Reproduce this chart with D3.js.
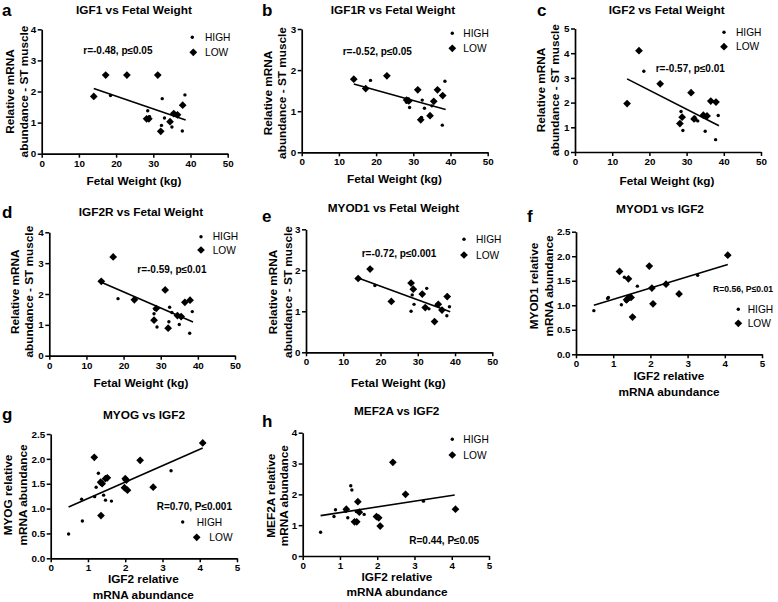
<!DOCTYPE html>
<html>
<head>
<meta charset="utf-8">
<script src="https://cdn.jsdelivr.net/npm/d3@7"></script>
<style>
body{margin:0;background:#fff;}
svg text{font-family:"Liberation Sans",Arial,sans-serif;fill:#000;}
</style>
</head>
<body>
<div id="canvas"></div>
<script>
// fetal weight (kg), same animals in panels a-e
var lowWeight  = [14.0, 17.2, 22.9, 28.2, 28.8, 31.2, 32.0, 34.5, 35.5, 36.5, 37.9];
var highWeight = [18.5, 28.2, 28.5, 29.0, 32.2, 32.4, 33.0, 35.0, 37.8, 38.5];

// relative mRNA abundance, ST muscle
var igf1Low   = [1.84, 2.53, 2.53, 1.12, 1.12, 2.53, 0.72, 1.03, 1.29, 1.25, 1.56];
var igf1High  = [1.87, 1.13, 1.38, 1.19, 0.91, 1.77, 1.15, 0.86, 0.73, 1.89];
var igf1rLow  = [1.78, 1.55, 1.86, 1.27, 1.25, 1.52, 0.79, 0.89, 1.24, 1.52, 1.38];
var igf1rHigh = [1.75, 1.22, 1.30, 1.09, 0.85, 1.27, 1.07, 1.13, 0.66, 1.73];
var igf2Low   = [1.96, 4.10, 2.76, 1.15, 1.41, 2.40, 1.34, 1.49, 1.46, 2.06, 2.02];
var igf2High  = [3.27, 1.20, 1.64, 0.87, 1.41, 1.30, 1.26, 0.84, 0.50, 1.48];
var igf2rLow  = [2.41, 3.20, 1.81, 1.15, 1.53, 2.13, 0.89, 1.30, 1.27, 1.73, 1.80];
var igf2rHigh = [1.85, 1.36, 1.50, 0.93, 1.10, 1.57, 1.40, 1.01, 0.73, 1.43];
var myod1Low  = [1.80, 2.03, 1.24, 1.69, 1.54, 1.42, 1.09, 0.75, 1.17, 1.03, 1.36];
var myod1High = [1.63, 1.00, 1.40, 1.17, 1.10, 1.56, 1.06, 1.15, 0.89, 1.11];

// fitted lines (value at start and end of the weight range)
var weightFitRange = [14, 38.7];
var igf1Fit  = [2.10, 1.08];
var igf1rFit = [1.66, 1.04];
var igf2Fit  = [2.96, 1.06];
var igf2rFit = [2.38, 1.09];
var myod1Fit = [1.81, 0.99];

// panels f-h: IGF2 relative abundance on x
var fLowX  = [1.17, 1.41, 1.97, 2.04, 2.07, 2.42, 2.77, 1.52, 1.36, 1.41, 1.48, 4.08];
var fLowY  = [1.69, 1.54, 1.80, 1.35, 1.03, 1.43, 1.23, 0.76, 1.11, 1.15, 1.16, 2.02];
var fHighX = [0.48, 0.85, 0.87, 1.22, 1.30, 1.65, 3.27, 1.35];
var fHighY = [0.89, 1.14, 1.16, 1.01, 1.57, 1.39, 1.61, 1.08];

var gLowX  = [1.17, 1.34, 1.38, 1.47, 1.52, 1.35, 2.00, 2.03, 1.98, 2.06, 2.40, 2.75, 4.08];
var gLowY  = [2.03, 1.53, 1.50, 1.60, 1.62, 0.86, 1.60, 1.57, 1.42, 1.37, 1.97, 1.43, 2.32];
var gHighX = [0.48, 0.85, 0.83, 1.22, 1.18, 1.28, 1.42, 1.47, 1.63, 3.23];
var gHighY = [0.49, 0.75, 1.19, 1.43, 1.24, 1.71, 1.27, 1.17, 1.15, 1.76];

var hLowX  = [2.42, 2.76, 4.10, 1.48, 1.17, 1.52, 1.39, 1.45, 1.98, 2.04, 2.08];
var hLowY  = [3.04, 2.00, 1.52, 1.76, 1.52, 1.42, 1.11, 1.11, 1.28, 1.24, 0.97];
var hHighX = [0.48, 0.84, 0.88, 1.21, 1.29, 1.32, 1.44, 1.65, 3.24, 1.14];
var hHighY = [0.77, 1.28, 1.50, 1.24, 2.28, 2.14, 1.44, 1.35, 1.78, 1.46];

var igf2FitRange = [0.48, 4.08];
var fFit = [1.00, 1.83];
var gFit = [1.03, 2.22];
var hFit = [1.31, 1.98];

var weightTicks = [0, 10, 20, 30, 40, 50];
var igf2Ticks = [0, 1, 2, 3, 4, 5];
var halfTicks = [0, 0.5, 1, 1.5, 2, 2.5];

var fetalLabel = ['Fetal Weight (kg)'];
var igf2Label = ['IGF2 relative', 'mRNA abundance'];
var stLabel = ['Relative mRNA', 'abundance - ST muscle'];

var panels = [
  {letter:'a', lp:[2,15.5], title:'IGF1 vs Fetal Weight', tp:[134,14],
   box:[41.7,227.7,29.3,153.7], xd:50, xt:weightTicks, yd:4, yt:[0,1,2,3,4], yf:d3.format('d'),
   lowX:lowWeight, lowY:igf1Low, highX:highWeight, highY:igf1High, fitX:weightFitRange, fitY:igf1Fit,
   ylab:stLabel, ylp:[13.5,28,91.5], xlab:fetalLabel, xlp:[134,185],
   note:'r=-0.48, p≤0.05', np:[83.3,54], leg:[192.3,37.3,205,193.3,52.3,205]},
  {letter:'b', lp:[262,16], title:'IGF1R vs Fetal Weight', tp:[393,14],
   box:[301.7,487.7,29,152.3], xd:50, xt:weightTicks, yd:3, yt:[0,1,2,3], yf:d3.format('d'),
   lowX:lowWeight, lowY:igf1rLow, highX:highWeight, highY:igf1rHigh, fitX:weightFitRange, fitY:igf1rFit,
   ylab:stLabel, ylp:[272,286,93], xlab:fetalLabel, xlp:[394.5,182.7],
   note:'r=-0.52, p≤0.05', np:[342.7,55.3], leg:[452.3,33.3,463.3,452.3,48.3,463.3]},
  {letter:'c', lp:[537,16], title:'IGF2 vs Fetal Weight', tp:[666.7,14],
   box:[575,761,28.5,152], xd:50, xt:weightTicks, yd:5, yt:[0,1,2,3,4,5], yf:d3.format('d'),
   lowX:lowWeight, lowY:igf2Low, highX:highWeight, highY:igf2High, fitX:weightFitRange, fitY:igf2Fit,
   ylab:stLabel, ylp:[545,559,90], xlab:fetalLabel, xlp:[667,185],
   note:'r=-0.57, p≤0.01', np:[655.7,71.7], leg:[724,32.3,736,724,46.7,736]},
  {letter:'d', lp:[2,218], title:'IGF2R vs Fetal Weight', tp:[141,215.7],
   box:[49.3,235,232.3,355.7], xd:50, xt:weightTicks, yd:4, yt:[0,1,2,3,4], yf:d3.format('d'),
   lowX:lowWeight, lowY:igf2rLow, highX:highWeight, highY:igf2rHigh, fitX:weightFitRange, fitY:igf2rFit,
   ylab:stLabel, ylp:[19,33,291.7], xlab:fetalLabel, xlp:[141,386.7],
   note:'r=-0.59, p≤0.01', np:[137.3,273.3], leg:[201,236.7,212.7,201,250,212.7]},
  {letter:'e', lp:[262,222], title:'MYOD1 vs Fetal Weight', tp:[393.5,212.3],
   box:[306,492.3,229.3,352.3], xd:50, xt:weightTicks, yd:3, yt:[0,1,2,3], yf:d3.format('d'),
   lowX:lowWeight, lowY:myod1Low, highX:highWeight, highY:myod1High, fitX:weightFitRange, fitY:myod1Fit,
   ylab:stLabel, ylp:[277,292,292], xlab:fetalLabel, xlp:[398.3,386.7],
   note:'r=-0.72, p≤0.001', np:[361.7,257.3], leg:[464,239.3,476,464,255,476]},
  {letter:'f', lp:[527,222], title:'MYOD1 vs IGF2', tp:[660,213.3],
   box:[576,762,231.7,354.3], xd:5, xt:igf2Ticks, yd:2.5, yt:halfTicks, yf:d3.format('.1f'),
   lowX:fLowX, lowY:fLowY, highX:fHighX, highY:fHighY, fitX:igf2FitRange, fitY:fFit,
   ylab:['MYOD1 relative','mRNA abundance'], ylp:[538,553,286], xlab:igf2Label, xlp:[669,380],
   note:'R=0.56, P≤0.01', np:[713,291.7], nl:60, nfs:9.2, leg:[738.3,309.3,747.7,738.3,323.3,747.7]},
  {letter:'g', lp:[2,420], title:'MYOG vs IGF2', tp:[144,419],
   box:[50.7,237,434,558.3], xd:5, xt:igf2Ticks, yd:2.5, yt:halfTicks, yf:d3.format('.1f'),
   lowX:gLowX, lowY:gLowY, highX:gHighX, highY:gHighY, fitX:igf2FitRange, fitY:gFit,
   ylab:['MYOG relative','mRNA abundance'], ylp:[12,27,495], xlab:igf2Label, xlp:[143.3,583],
   note:'R=0.70, P≤0.001', np:[156.7,510], leg:[182.7,522,196.7,196.7,537.3,209.3]},
  {letter:'h', lp:[262,427], title:'MEF2A vs IGF2', tp:[396.7,415],
   box:[302.7,489,432.7,556], xd:5, xt:igf2Ticks, yd:4, yt:[0,1,2,3,4], yf:d3.format('d'),
   lowX:hLowX, lowY:hLowY, highX:hHighX, highY:hHighY, fitX:igf2FitRange, fitY:hFit,
   ylab:['MEF2A relative','mRNA abundance'], ylp:[275,288,495.7], xlab:igf2Label, xlp:[397,580.7],
   note:'R=0.44, P≤0.05', np:[409.3,544], leg:[452.3,439.3,463.3,452.3,455,463.3]}
];

var svg = d3.select('#canvas').append('svg')
  .attr('width', 778).attr('height', 602);

var diamond = d3.symbol().type(d3.symbolSquare).size(30);

function drawPanel(p){
  var g = svg.append('g');
  var x = d3.scaleLinear().domain([0, p.xd]).range([p.box[0], p.box[1]]);
  var y = d3.scaleLinear().domain([0, p.yd]).range([p.box[3], p.box[2]]);

  var ax = g.append('g').attr('transform','translate(0,' + p.box[3] + ')')
    .call(d3.axisBottom(x).tickValues(p.xt).tickSize(4).tickSizeOuter(0).tickPadding(2).tickFormat(d3.format('d')));
  var ay = g.append('g').attr('transform','translate(' + p.box[0] + ',0)')
    .call(d3.axisLeft(y).tickValues(p.yt).tickSize(4).tickSizeOuter(0).tickPadding(1.5).tickFormat(p.yf));
  [ax, ay].forEach(function(a){
    a.select('.domain').attr('stroke','#000').attr('stroke-width',1.7);
    a.selectAll('.tick line').attr('stroke','#000').attr('stroke-width',1.5);
    a.selectAll('.tick text').attr('fill','#000')
      .style('font-family','"Liberation Sans",Arial,sans-serif')
      .style('font-size','9.8px').style('font-weight','bold');
  });

  // fitted line
  g.append('line')
    .attr('x1', x(p.fitX[0])).attr('y1', y(p.fitY[0]))
    .attr('x2', x(p.fitX[1])).attr('y2', y(p.fitY[1]))
    .attr('stroke','#000').attr('stroke-width',1.6);

  g.selectAll('.hi').data(p.highX).enter().append('circle')
    .attr('cx', function(d){ return x(d); })
    .attr('cy', function(d,i){ return y(p.highY[i]); })
    .attr('r', 1.7).attr('fill','#000');

  g.selectAll('.lo').data(p.lowX).enter().append('path')
    .attr('d', diamond)
    .attr('transform', function(d,i){ return 'translate(' + x(d) + ',' + y(p.lowY[i]) + ') rotate(45)'; })
    .attr('fill','#000');

  // texts
  g.append('text').attr('x', p.lp[0]).attr('y', p.lp[1])
    .style('font-size','17px').style('font-weight','bold').text(p.letter);
  g.append('text').attr('x', p.tp[0]).attr('y', p.tp[1]).attr('text-anchor','middle')
    .style('font-size','11.8px').style('font-weight','bold').text(p.title);

  p.ylab.forEach(function(t,i){
    g.append('text')
      .attr('transform','translate(' + p.ylp[i] + ',' + p.ylp[2] + ') rotate(-90)')
      .attr('text-anchor','middle')
      .style('font-size','11.8px').style('font-weight','bold').text(t);
  });
  p.xlab.forEach(function(t,i){
    g.append('text').attr('x', p.xlp[0]).attr('y', p.xlp[1] + i*15.5)
      .attr('text-anchor','middle')
      .style('font-size','11.8px').style('font-weight','bold').text(t);
  });

  var note = g.append('text').attr('x', p.np[0]).attr('y', p.np[1])
    .style('font-size', (p.nfs || 10) + 'px').style('font-weight','bold').text(p.note);
  if(p.nl){ note.attr('textLength', p.nl).attr('lengthAdjust','spacingAndGlyphs'); }

  // legend
  var L = p.leg;
  g.append('circle').attr('cx', L[0]).attr('cy', L[1]).attr('r', 1.7).attr('fill','#000');
  g.append('text').attr('x', L[2]).attr('y', L[1] + 3.7).style('font-size','10.2px').text('HIGH');
  g.append('path').attr('d', diamond)
    .attr('transform','translate(' + L[3] + ',' + L[4] + ') rotate(45)').attr('fill','#000');
  g.append('text').attr('x', L[5]).attr('y', L[4] + 3.7).style('font-size','10.2px').text('LOW');
}

panels.forEach(drawPanel);
</script>
</body>
</html>
